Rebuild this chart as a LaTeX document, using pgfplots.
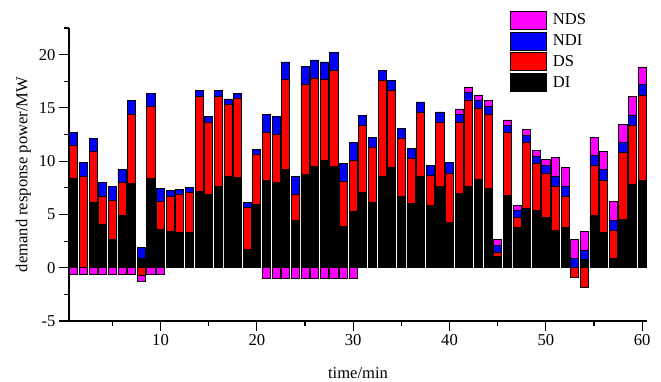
\documentclass[border=0pt]{standalone}
\usepackage{fontspec}
\setmainfont{Liberation Serif}
\usepackage{pgfplots}
\usepackage{pgfplotstable}
\pgfplotsset{compat=1.18}
\definecolor{mag}{RGB}{255,0,255}
\definecolor{rd}{RGB}{255,0,0}
\definecolor{bl}{RGB}{0,0,255}
\newcommand\f{\fontsize{16.6}{19}\selectfont}
\pgfplotstableread{
x DI DSp NDIp NDSp DSn NDSn
1 8.34 3.13 1.25 0 0 -0.6
2 0 8.6 1.24 0 0 -0.6
3 6.16 4.74 1.26 0 0 -0.6
4 4.06 2.66 1.25 0 0 -0.6
5 2.66 3.68 1.26 0 0 -0.6
6 4.9 3.07 1.22 0 0 -0.6
7 7.9 6.5 1.26 0 0 -0.6
8 0.84 0 1.1 0 -0.7 -0.6
9 8.34 6.76 1.24 0 0 -0.6
10 3.6 2.58 1.22 0 0 -0.6
11 3.4 3.32 0.5 0 0 0
12 3.28 3.56 0.5 0 0 0
13 3.28 3.75 0.5 0 0 0
14 7.16 8.94 0.5 0 0 0
15 6.9 6.76 0.5 0 0 0
16 7.6 8.5 0.5 0 0 0
17 8.53 6.81 0.5 0 0 0
18 8.47 7.4 0.47 0 0 0
19 1.72 3.91 0.5 0 0 0
20 5.94 4.66 0.5 0 0 0
21 8.16 4.5 1.72 0 0 -1.0
22 7.97 4.5 1.69 0 0 -1.0
23 9.22 8.44 1.65 0 0 -1.0
24 4.44 2.4 1.69 0 0 -1.0
25 8.78 8.44 1.68 0 0 -1.0
26 9.5 8.31 1.69 0 0 -1.0
27 10.06 7.57 1.68 0 0 -1.0
28 9.5 9.03 1.69 0 0 -1.0
29 3.875 4.19 1.69 0 0 -1.0
30 5.28 4.78 1.69 0 0 -1.0
31 7.03 6.31 0.94 0 0 0
32 6.09 5.25 0.91 0 0 0
33 8.53 9.07 0.93 0 0 0
34 9.4 7.26 0.94 0 0 0
35 6.66 5.47 0.93 0 0 0
36 6.0 4.22 0.94 0 0 0
37 8.6 6.0 0.96 0 0 0
38 5.84 2.82 0.9 0 0 0
39 7.6 6.06 0.96 0 0 0
40 4.22 4.68 0.94 0 0 0
41 6.97 6.69 0.74 0.5 0 0
42 7.66 8.09 0.69 0.53 0 0
43 8.28 6.72 0.69 0.53 0 0
44 7.4 7.0 0.7 0.56 0 0
45 1.09 0.31 0.69 0.57 0 0
46 6.8 5.86 0.68 0.53 0 0
47 3.8 0.89 0.69 0.5 0 0
48 5.56 6.22 0.66 0.56 0 0
49 5.375 4.375 0.72 0.5 0 0
50 4.72 4.18 0.7 0.53 0 0
51 3.5 4.1 0.93 1.78 0 0
52 3.75 2.91 0.94 1.78 0 0
53 0 0 0.9 1.72 -0.94 0
54 0.78 0 0.88 1.74 -1.875 0
55 4.9 4.7 0.93 1.72 0 0
56 3.28 4.94 0.97 1.71 0 0
57 0.9 2.63 0.94 1.72 0 0
58 4.53 6.25 0.94 1.75 0 0
59 7.84 5.56 0.94 1.76 0 0
60 8.22 8.0 0.94 1.68 0 0
}\data
\begin{document}
\begin{tikzpicture}
\useasboundingbox (-69pt,-60pt) rectangle (592pt,321pt);
\pgfplotsset{base/.style={scale only axis, width=578pt, height=293pt,
  xmin=0.5, xmax=60.5, ymin=-5, ymax=22.5, ybar stacked, bar width=0.84,
  every axis plot/.append style={draw=black, line width=0.8pt}}}
\begin{axis}[base,
  axis x line*=bottom, axis y line*=left,
  axis line style={line width=1.1pt},
  xtick={10,20,...,60}, minor xtick={5,15,...,55},
  ytick={-5,0,...,20}, minor ytick={-2.5,2.5,...,22.5},
  tick align=outside, major tick length=10pt, minor tick length=5pt,
  tick style={black, line width=1.1pt},
  /pgf/number format/assume math mode=true,
  tick label style={font=\f},
  xlabel={time/min},
  ylabel={demand response power/MW},
  every axis y label/.style={at={(axis description cs:-0.079,0.5)}, rotate=90, anchor=center, font=\f},
  every axis x label/.style={at={(axis description cs:0.5,0)}, anchor=base, yshift=-57pt, font=\f},
  legend image code/.code={\draw[#1] (0pt,-9pt) rectangle (36pt,9pt);},
  reverse legend,
  legend style={draw=none, fill=none, font=\f, inner sep=0pt, outer sep=0pt,
    at={(axis description cs:0.7625,1.059)}, anchor=north west,
    nodes={inner sep=1.3pt}, row sep=2pt, column sep=5pt},
  legend cell align=left,
]
\addplot[fill=black] table[x=x, y=DI] {\data};
\addplot[fill=rd] table[x=x, y=DSp] {\data};
\addplot[fill=bl] table[x=x, y=NDIp] {\data};
\addplot[fill=mag] table[x=x, y=NDSp] {\data};
\legend{DI, DS, NDI, NDS}
\end{axis}
\begin{axis}[base, hide axis]
\addplot[fill=rd] table[x=x, y=DSn] {\data};
\addplot[fill=mag] table[x=x, y=NDSn] {\data};
\end{axis}
\end{tikzpicture}
\end{document}
